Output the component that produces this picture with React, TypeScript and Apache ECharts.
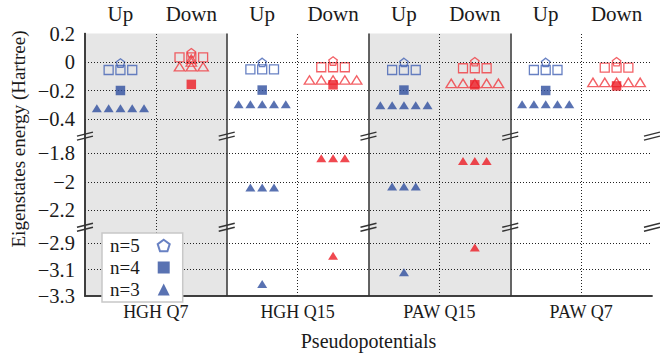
import React, { useEffect, useRef } from "react";
import * as echarts from "echarts";

// ---------- data ----------
const panels = ["HGH Q7", "HGH Q15", "PAW Q15", "PAW Q7"];
const spinCols = ["Up", "Down"];
const shadedPanels = [0, 2];

// tick labels for each segment of the broken y axis
const topTicks = [0.2, 0, -0.2, -0.4];
const midTicks = [-1.8, -2, -2.2];
const lowTicks = [-2.9, -3.1, -3.3];

// energies [up, down] per panel (Hartree)
const n5Pentagon = [[-0.007, 0.065], [-0.003, 0.007], [-0.003, 0.002], [-0.003, 0.002]];
const n5OpenSquares = [[-0.056, 0.033], [-0.052, -0.037], [-0.056, -0.044], [-0.056, -0.04]]; // 3-fold
const n4Filled = [[-0.2, -0.157], [-0.197, -0.16], [-0.197, -0.16], [-0.2, -0.168]];
const n3dUp = [-0.325, -0.297, -0.304, -0.297]; // 5-fold, up spin
const openTriDown = [-0.033, -0.126, -0.15, -0.143]; // down spin, open triangles
const openTriDownCount = [3, 5, 5, 5];
const hghQ7DownExtra = [0.0, 0.02]; // levels hidden in the HGH Q7 down cluster
const n3p: (number | null)[][] = [[null, null], [-2.04, -1.835], [-2.034, -1.854], [null, null]]; // 3-fold
const n3s: (number | null)[][] = [[null, null], [-3.21, -2.996], [-3.12, -2.933], [null, null]];

// ---------- styles ----------
const FONT = '"Liberation Serif", "Times New Roman", serif';
const TXT = "#1a1a1a";
const BLUE = "#2f4f9f";
const BLUE_L = "#4262b4";
const RED = "#ec1c24";
const RED_L = "#f03a40";
const STEP = 0.1665;
const PENT = "path://M0,-1L0.951,-0.309L0.588,0.809L-0.588,0.809L-0.951,-0.309Z";

const LEFT = 85, RIGHT_X = 652, W = 660;
const G = [
  { top: 33.5, height: 99.75, min: -0.5, max: 0.2, ticks: topTicks },
  { top: 139, height: 85.5, min: -2.3, max: -1.7, ticks: midTicks },
  { top: 230, height: 66, min: -3.3, max: -2.8, ticks: lowTicks },
];
const BG_TOP = 33.5, BG_BOTTOM = 296;

const colX = (p: number, s: number) => p * 2 + s + 0.5;
const row = (p: number, s: number, n: number, e: number | null) => {
  const out: number[][] = [];
  if (e === null || e === undefined) return out;
  for (let k = 0; k < n; k++) out.push([colX(p, s) + (k - (n - 1) / 2) * STEP, e]);
  return out;
};
const fmt = (r: number) => (r === 0 ? "0" : (r < 0 ? "\u2212" : "") + String(Math.abs(r)));

export default function App() {
  const ref = useRef<HTMLDivElement>(null);
  useEffect(() => {
    if (!ref.current) return;
    const chart = echarts.init(ref.current, undefined, { renderer: "svg" });

    const grids: any[] = G.map((g) => ({ left: LEFT, right: W - RIGHT_X, top: g.top, height: g.height }));
    grids.push({ left: LEFT, right: W - RIGHT_X, top: BG_TOP, height: BG_BOTTOM - BG_TOP });

    const xAxes: any[] = G.map((_, i) => ({ gridIndex: i, type: "value", min: 0, max: 8, show: false }));
    xAxes.push({
      gridIndex: 3, type: "value", position: "bottom", min: 0, max: 8, interval: 1, z: 10,
      axisLine: { show: true, lineStyle: { color: "#333", width: 1.5 } },
      axisTick: { show: false }, splitLine: { show: false },
      axisLabel: {
        fontSize: 18, fontFamily: FONT, color: TXT, margin: 7,
        formatter: (v: number) => (Math.round(v) % 2 === 1 ? panels[(Math.round(v) - 1) / 2] : ""),
      },
      name: "Pseudopotentials", nameLocation: "middle", nameGap: 35,
      nameTextStyle: { fontSize: 20, fontFamily: FONT, color: TXT },
    });
    xAxes.push({
      gridIndex: 3, type: "value", position: "top", min: 0, max: 8, interval: 0.5, z: 10,
      axisLine: { show: true, lineStyle: { color: "#333", width: 1.5 } },
      axisTick: { show: false }, splitLine: { show: false },
      axisLabel: {
        fontSize: 21, fontFamily: FONT, color: TXT, margin: 9,
        formatter: (v: number) => {
          const f = v - Math.floor(v);
          return Math.abs(f - 0.5) < 1e-6 ? spinCols[Math.floor(v) % 2] : "";
        },
      },
    });

    const yAxes: any[] = G.map((g, i) => ({
      gridIndex: i, type: "value", min: g.min, max: g.max, interval: 0.1,
      axisLine: { show: false }, axisTick: { show: false }, splitLine: { show: false },
      axisLabel: {
        fontSize: 20.5, fontFamily: FONT, color: TXT, margin: 10,
        formatter: (v: number) => {
          const r = Math.round(v * 10) / 10;
          return g.ticks.some((t) => Math.abs(t - r) < 1e-9) ? fmt(r) : "";
        },
      },
    }));
    yAxes.push({
      gridIndex: 3, type: "value", min: 0, max: 1, position: "left", z: 10,
      axisLine: { show: true, lineStyle: { color: "#333", width: 1.5 } },
      axisTick: { show: false }, splitLine: { show: false }, axisLabel: { show: false },
    });
    yAxes.push({
      gridIndex: 3, type: "value", min: 0, max: 1, position: "right", z: 10,
      axisLine: { show: true, lineStyle: { color: "#333", width: 1.5 } },
      axisTick: { show: false }, splitLine: { show: false }, axisLabel: { show: false },
    });

    const dotted = { color: "#222", width: 1, type: [1, 2] as any };
    const solid = { color: "#333", width: 1.5, type: "solid" as any };

    const series: any[] = [];
    const divLines: any[] = [];
    for (let k = 1; k < panels.length; k++) divLines.push({ xAxis: k * 2, lineStyle: solid });
    for (let k = 0; k < panels.length; k++) divLines.push({ xAxis: k * 2 + 1, lineStyle: dotted });
    series.push({
      type: "scatter", name: "bg", xAxisIndex: 3, yAxisIndex: 3, data: [], silent: true, z: 1,
      markArea: {
        silent: true, itemStyle: { color: "#e6e6e6" },
        data: shadedPanels.map((p) => [{ xAxis: p * 2, yAxis: 0 }, { xAxis: p * 2 + 2, yAxis: 1 }]),
      },
      markLine: { silent: true, symbol: ["none", "none"], label: { show: false }, data: divLines },
    });
    G.forEach((g, i) => {
      series.push({
        type: "scatter", name: "grid" + i, xAxisIndex: i, yAxisIndex: i, data: [], silent: true, z: 2,
        markLine: {
          silent: true, symbol: ["none", "none"], label: { show: false }, lineStyle: dotted,
          data: g.ticks.filter((t) => t > g.min + 1e-9 && t < g.max - 1e-9).map((t) => ({ yAxis: t })),
        },
      });
    });

    const open = (c: string) => ({ color: "rgba(0,0,0,0)", borderColor: c, borderWidth: 1.3 });
    const filled = (c: string) => ({ color: c });
    const add = (name: string, gi: number, data: number[][], symbol: string, size: any, itemStyle: any, z = 3) =>
      series.push({ type: "scatter", name, xAxisIndex: gi, yAxisIndex: gi, data, symbol, symbolSize: size, itemStyle, z, silent: true });

    const triUpData: number[][] = [], triDownOpen: number[][] = [];
    const sqUp: number[][] = [], sqDown: number[][] = [];
    const pUp: number[][] = [], pDown: number[][] = [];
    const fUp: number[][] = [], fDown: number[][] = [];
    panels.forEach((_, p) => {
      triUpData.push(...row(p, 0, 5, n3dUp[p]));
      triDownOpen.push(...row(p, 1, openTriDownCount[p], openTriDown[p]));
      sqUp.push(...row(p, 0, 3, n5OpenSquares[p][0]));
      sqDown.push(...row(p, 1, 3, n5OpenSquares[p][1]));
      pUp.push(...row(p, 0, 1, n5Pentagon[p][0]));
      pDown.push(...row(p, 1, 1, n5Pentagon[p][1]));
      fUp.push(...row(p, 0, 1, n4Filled[p][0]));
      fDown.push(...row(p, 1, 1, n4Filled[p][1]));
    });
    hghQ7DownExtra.forEach((e) => triDownOpen.push(...row(0, 1, 1, e)));
    add("open tri down", 0, triDownOpen, "triangle", [10.5, 8.5], open(RED_L), 3);
    add("open sq up", 0, sqUp, "rect", 9, open(BLUE_L), 3);
    add("open sq down", 0, sqDown, "rect", 9, open(RED_L), 3);
    add("n=5", 0, pUp, PENT, 8.5, open(BLUE_L), 4);
    add("n=5 down", 0, pDown, PENT, 8.5, open(RED_L), 4);
    add("n=4", 0, fUp, "rect", 9.5, filled(BLUE), 5);
    add("n=4 down", 0, fDown, "rect", 9.5, filled(RED), 5);
    add("n=3", 0, triUpData, "triangle", [10, 8], filled(BLUE), 5);

    const mUp: number[][] = [], mDown: number[][] = [], bUp: number[][] = [], bDown: number[][] = [];
    panels.forEach((_, p) => {
      mUp.push(...row(p, 0, 3, n3p[p][0]));
      mDown.push(...row(p, 1, 3, n3p[p][1]));
      bUp.push(...row(p, 0, 1, n3s[p][0]));
      bDown.push(...row(p, 1, 1, n3s[p][1]));
    });
    add("n=3", 1, mUp, "triangle", [10, 8], filled(BLUE), 5);
    add("n=3 down", 1, mDown, "triangle", [10, 8], filled(RED), 5);
    add("n=3", 2, bUp, "triangle", [10, 8], filled(BLUE), 5);
    add("n=3 down", 2, bDown, "triangle", [10, 8], filled(RED), 5);

    const graphics: any[] = [];
    const breaks = [(G[0].top + G[0].height + G[1].top) / 2, (G[1].top + G[1].height + G[2].top) / 2];
    for (let k = 0; k <= panels.length; k++) {
      const x = LEFT + ((RIGHT_X - LEFT) * k) / panels.length;
      breaks.forEach((yc) => {
        [-2, 2].forEach((d) => {
          graphics.push({
            type: "line", z: 50, silent: true,
            shape: { x1: x - 8, y1: yc + d + 2, x2: x + 8, y2: yc + d - 2 },
            style: { stroke: "#333", lineWidth: 1.3 },
          });
        });
      });
    }
    graphics.push({
      type: "text", x: 18, y: 139, rotation: Math.PI / 2, z: 50,
      style: {
        text: "Eigenstates energy (Hartree)",
        font: "19px 'Liberation Serif', 'Times New Roman', serif",
        fill: TXT, align: "center", verticalAlign: "middle",
      },
    });

    chart.setOption({
      animation: false,
      grid: grids,
      xAxis: xAxes,
      yAxis: yAxes,
      series,
      graphic: graphics,
      legend: {
        data: ["n=5", "n=4", "n=3"], orient: "vertical", left: 102, top: 233, align: "right",
        itemWidth: 12, itemHeight: 12, itemGap: 3, padding: [3, 12, 3, 8],
        backgroundColor: "#fff", borderColor: "#c8c8c8", borderWidth: 1.5, selectedMode: false, z: 20,
        textStyle: { fontSize: 19, fontFamily: FONT, color: TXT, lineHeight: 16, padding: [0, 13, 0, 0] },
      },
    });
    return () => chart.dispose();
  }, []);
  return <div ref={ref} style={{ position: "absolute", left: 0, top: 0, width: 660, height: 359 }} />;
}
